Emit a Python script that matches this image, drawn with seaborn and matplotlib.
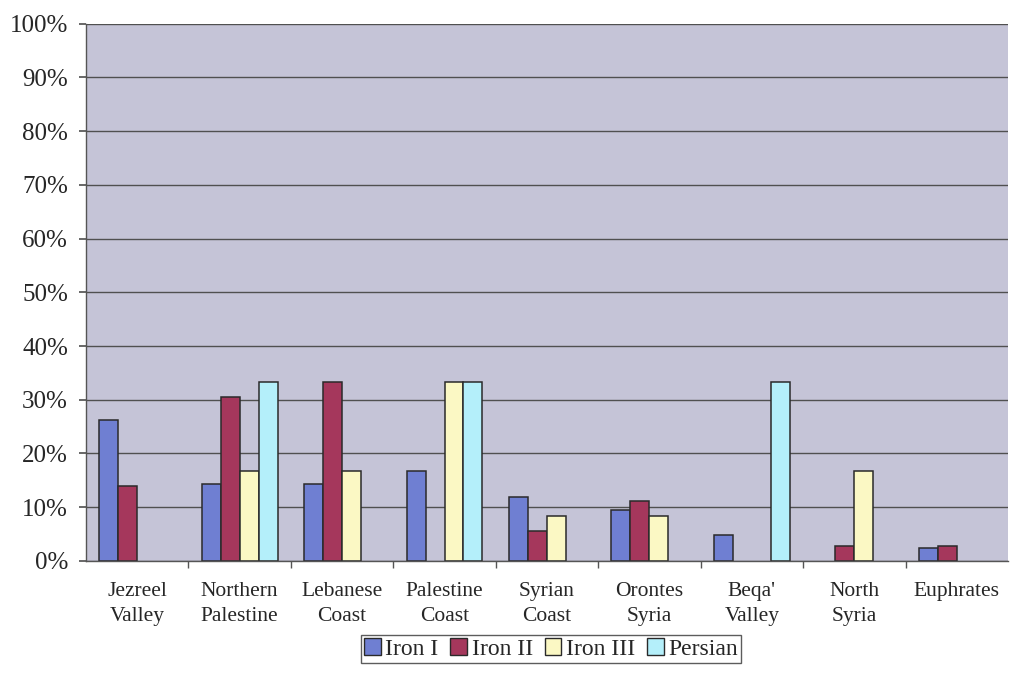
import numpy as np
import pandas as pd
import matplotlib
matplotlib.use("Agg")
import matplotlib.pyplot as plt
import seaborn as sns
from matplotlib.ticker import PercentFormatter, FixedLocator
from matplotlib.patches import Patch

# data (percent)
regions = ["Jezreel\nValley", "Northern\nPalestine", "Lebanese\nCoast", "Palestine\nCoast",
           "Syrian\nCoast", "Orontes\nSyria", "Beqa'\nValley", "North\nSyria", "Euphrates"]
periods = ["Iron I", "Iron II", "Iron III", "Persian"]
iron_1 = [26.2, 14.3, 14.3, 16.7, 11.9, 9.5, 4.8, 0.0, 2.4]
iron_2 = [13.9, 30.6, 33.3, 0.0, 5.6, 11.1, 0.0, 2.8, 2.8]
iron_3 = [0.0, 16.7, 16.7, 33.3, 8.3, 8.3, 0.0, 16.7, 0.0]
persian = [0.0, 33.3, 0.0, 33.3, 0.0, 0.0, 33.3, 0.0, 0.0]
colors = ["#6f7fd2", "#a5375c", "#fbf8c4", "#b4effa"]

df = pd.DataFrame({"Iron I": iron_1, "Iron II": iron_2, "Iron III": iron_3, "Persian": persian},
                  index=regions)
long = df.reset_index(names="region").melt(id_vars="region", var_name="period", value_name="share")

sns.set_theme(style="white")
plt.rcParams["font.family"] = ["Liberation Serif", "DejaVu Serif"]

fig = plt.figure(figsize=(10.11, 6.79), dpi=100)
ax = fig.add_axes([0.085, 0.174, 0.912, 0.791])
ax.set_facecolor("#c5c4d7")

sns.barplot(data=long, x="region", y="share", hue="period", hue_order=periods,
            palette=colors, width=0.74, edgecolor="#2a2a2a", linewidth=1.1,
            saturation=1, legend=False, ax=ax)

# Excel draws nothing for empty values
for bar in ax.patches:
    if bar.get_height() == 0:
        bar.set_visible(False)

ax.set_ylim(0, 100)
ax.set_xlim(-0.5, len(regions) - 0.5)
ax.yaxis.set_major_locator(FixedLocator(np.arange(0, 101, 10)))
ax.yaxis.set_major_formatter(PercentFormatter(decimals=0))
ax.grid(axis="y", color="#505050", linewidth=1.0)
ax.set_axisbelow(True)

ax.set_xlabel("")
ax.set_ylabel("")
ax.tick_params(axis="y", labelsize=18, length=5, color="#555555", direction="out", left=True, pad=8)
ax.tick_params(axis="x", labelsize=15.5, length=0, pad=15)
ax.set_xticks(range(len(regions)))
ax.set_xticklabels(regions, linespacing=1.45)
ax.set_xticks(np.arange(0.5, len(regions) - 0.5, 1), minor=True)
ax.tick_params(axis="x", which="minor", length=5, color="#555555", bottom=True, direction="out")

for side in ["top", "right"]:
    ax.spines[side].set_visible(False)
for side in ["left", "bottom"]:
    ax.spines[side].set_color("#555555")
    ax.spines[side].set_linewidth(1.0)

handles = [Patch(facecolor=c, edgecolor="#2a2a2a", label=p) for c, p in zip(colors, periods)]
fig.legend(handles=handles, loc="center", bbox_to_anchor=(0.545, 0.044), ncol=4,
           frameon=True, fancybox=False, edgecolor="#333333", fontsize=17,
           handlelength=0.7, handleheight=0.7, handletextpad=0.2, columnspacing=0.5,
           borderpad=0.15)

fig.savefig("out.png", dpi=100, facecolor="white")
